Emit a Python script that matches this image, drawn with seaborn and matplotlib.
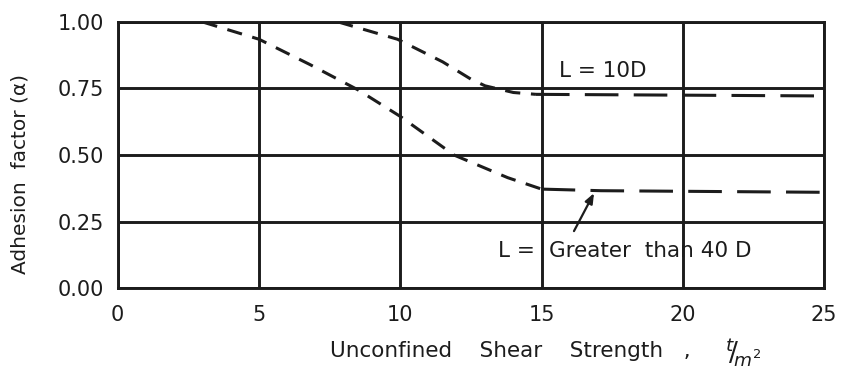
import matplotlib
matplotlib.use("Agg")
import matplotlib.pyplot as plt
import seaborn as sns
import pandas as pd

# ---- data ----
x_ticks = [0, 5, 10, 15, 20, 25]
y_ticks = [0.00, 0.25, 0.50, 0.75, 1.00]
y_tick_labels = ["0.00", "0.25", "0.50", "0.75", "1.00"]

# L = Greater than 40D : curved (short-dash) part, then flat (long-dash) part
x_40d_curve = [3.0, 5.0, 6.8, 8.5, 10.0, 11.9, 13.8, 15.0]
y_40d_curve = [1.00, 0.935, 0.84, 0.745, 0.645, 0.50, 0.415, 0.372]
x_40d_flat = [15.0, 17.1, 25.0]
y_40d_flat = [0.372, 0.366, 0.360]

# L = 10D
x_10d_curve = [7.8, 9.9, 11.5, 12.5, 13.0, 14.0, 14.8]
y_10d_curve = [1.00, 0.935, 0.85, 0.785, 0.76, 0.735, 0.728]
x_10d_flat = [14.8, 25.0]
y_10d_flat = [0.728, 0.722]

label_10d = "L = 10D"
label_40d_a = "L ="
label_40d_b = "Greater  than 40 D"
x_label = "Unconfined    Shear    Strength   ,"
x_unit = r"$^{t}\!/\!_{m^{2}}$"
y_label = r"Adhesion  factor (α)"

# ---- styling ----
sns.set_theme(style="white")
plt.rcParams["font.family"] = ["DejaVu Sans"]
plt.rcParams["mathtext.fontset"] = "dejavusans"

ink = "#1c1c1c"
fig = plt.figure(figsize=(8.41, 3.92), dpi=100)
ax = fig.add_axes([0.140, 0.265, 0.840, 0.679])

# grid drawn as thick black lines
for xv in x_ticks:
    ax.axvline(xv, color=ink, lw=2.1, zorder=1)
for yv in y_ticks:
    ax.axhline(yv, color=ink, lw=2.1, zorder=1)

df1 = pd.DataFrame({"x": x_40d_curve, "y": y_40d_curve})
df2 = pd.DataFrame({"x": x_40d_flat, "y": y_40d_flat})
df3 = pd.DataFrame({"x": x_10d_curve, "y": y_10d_curve})
df4 = pd.DataFrame({"x": x_10d_flat, "y": y_10d_flat})

short_dash = (0, (5, 3.5))
long_dash = (0, (11, 5))
for d, ls in [(df1, short_dash), (df3, short_dash), (df2, long_dash), (df4, long_dash)]:
    sns.lineplot(data=d, x="x", y="y", ax=ax, color=ink, lw=2.2,
                 linestyle=ls, sort=False, estimator=None, zorder=3)

ax.set_xlim(0, 25)
ax.set_ylim(0, 1.0)
ax.set_xticks(x_ticks)
ax.set_xticklabels([str(v) for v in x_ticks])
ax.set_yticks(y_ticks)
ax.set_yticklabels(y_tick_labels)
ax.tick_params(axis="both", length=0, labelsize=15, colors=ink)
ax.tick_params(axis="x", pad=12)
ax.tick_params(axis="y", pad=10)
for sp in ax.spines.values():
    sp.set_color(ink)
    sp.set_linewidth(2.1)

ax.set_xlabel(x_label, fontsize=15.5, color=ink)
ax.xaxis.set_label_coords(0.555, -0.20)
ax.text(0.885, -0.245, x_unit, transform=ax.transAxes, fontsize=19,
        color=ink, ha="center", va="center")
ax.set_ylabel(y_label, fontsize=14.5, color=ink)
ax.yaxis.set_label_coords(-0.125, 0.43)

ax.text(15.6, 0.815, label_10d, fontsize=15.5, color=ink, va="center", ha="left")
ax.text(14.75, 0.14, label_40d_a, fontsize=15.5, color=ink, va="center", ha="right")
ax.text(15.25, 0.14, label_40d_b, fontsize=15.5, color=ink, va="center", ha="left")
ax.annotate("", xy=(16.9, 0.366), xytext=(16.1, 0.205),
            arrowprops=dict(arrowstyle="-|>,head_length=0.5,head_width=0.2",
                            color=ink, lw=1.6))

for lab in ax.get_xticklabels() + ax.get_yticklabels():
    lab.set_color(ink)

fig.savefig("out.png", dpi=100, facecolor="white")
